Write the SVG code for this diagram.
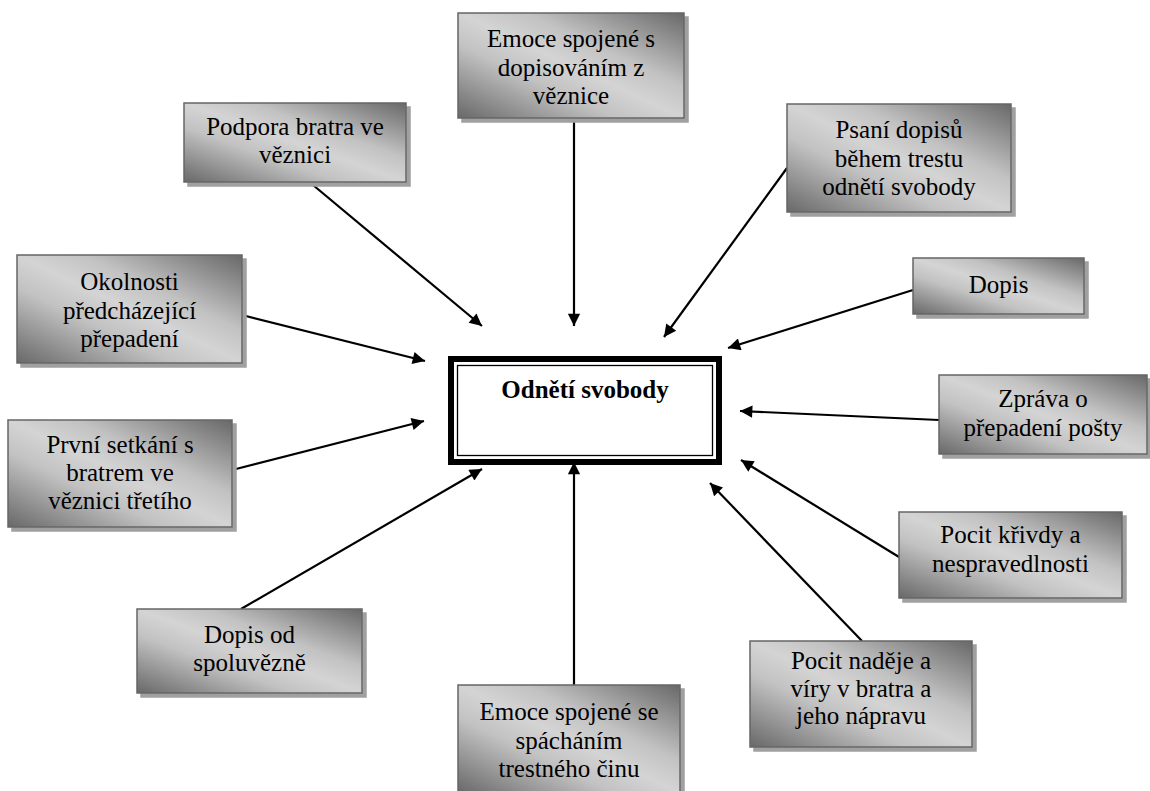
<svg xmlns="http://www.w3.org/2000/svg" width="1150" height="791" viewBox="0 0 1150 791">
<defs>
<linearGradient id="g" x1="0" y1="1" x2="1" y2="0">
<stop offset="0" stop-color="#686868"/>
<stop offset="0.35" stop-color="#c2c2c2"/>
<stop offset="0.5" stop-color="#d4d4d4"/>
<stop offset="0.65" stop-color="#c2c2c2"/>
<stop offset="1" stop-color="#686868"/>
</linearGradient>
<marker id="ah" viewBox="0 0 10 10" refX="10" refY="5" markerWidth="7" markerHeight="5.6" markerUnits="strokeWidth" orient="auto">
<path d="M0,0 L10,5 L0,10 z" fill="#000"/>
</marker>
<filter id="sh" x="-5%" y="-5%" width="115%" height="115%">
<feOffset in="SourceAlpha" dx="4" dy="4" result="o"/>
<feFlood flood-color="#a0a0a0"/>
<feComposite in2="o" operator="in" result="s"/>
<feMerge><feMergeNode in="s"/><feMergeNode in="SourceGraphic"/></feMerge>
</filter>
</defs>
<style>
.box{fill:url(#g);stroke:#666;stroke-width:1.5;filter:url(#sh)}
.t{font-family:"Liberation Serif","Times New Roman",serif;font-size:25px;fill:#000;text-anchor:middle}
.c{stroke:#000;stroke-width:2.2;fill:none;marker-end:url(#ah)}
</style>
<rect width="1150" height="791" fill="#fff"/>
<g id="connectors">
<line class="c" x1="295" y1="170" x2="482" y2="326"/>
<line class="c" x1="574" y1="118" x2="574" y2="326"/>
<line class="c" x1="787" y1="168" x2="664" y2="337"/>
<line class="c" x1="913" y1="290" x2="728" y2="348"/>
<line class="c" x1="939" y1="420" x2="740" y2="411"/>
<line class="c" x1="899" y1="557" x2="741" y2="460"/>
<line class="c" x1="862" y1="641" x2="710" y2="483"/>
<line class="c" x1="574" y1="685" x2="574" y2="462"/>
<line class="c" x1="241" y1="609" x2="482" y2="469"/>
<line class="c" x1="232" y1="470" x2="424" y2="421"/>
<line class="c" x1="242" y1="315" x2="425" y2="361"/>
</g>
<g id="center">
<rect x="451" y="359" width="268" height="103" fill="#fff" stroke="#000" stroke-width="6"/>
<rect x="457.5" y="365.5" width="255" height="90" fill="none" stroke="#000" stroke-width="1.3"/>
<text x="585" y="398" class="t" font-family="Liberation Serif, serif" style="font-weight:bold">Odnětí svobody</text>
</g>
<g id="podpora">
<rect class="box" x="184" y="103" width="222" height="79"/>
<text class="t" font-family="Liberation Serif, serif" x="295" y="135">Podpora bratra ve</text>
<text class="t" font-family="Liberation Serif, serif" x="295" y="163">věznici</text>
</g>
<g id="emoce-dopisovani">
<rect class="box" x="458" y="13" width="226" height="105"/>
<text class="t" font-family="Liberation Serif, serif" x="571" y="47">Emoce spojené s</text>
<text class="t" font-family="Liberation Serif, serif" x="571" y="75.5">dopisováním z</text>
<text class="t" font-family="Liberation Serif, serif" x="571" y="104">věznice</text>
</g>
<g id="psani">
<rect class="box" x="787" y="104" width="224" height="108"/>
<text class="t" font-family="Liberation Serif, serif" x="899" y="138">Psaní dopisů</text>
<text class="t" font-family="Liberation Serif, serif" x="899" y="166.5">během trestu</text>
<text class="t" font-family="Liberation Serif, serif" x="899" y="195">odnětí svobody</text>
</g>
<g id="dopis">
<rect class="box" x="913" y="258" width="171" height="56"/>
<text class="t" font-family="Liberation Serif, serif" x="998.5" y="293">Dopis</text>
</g>
<g id="zprava">
<rect class="box" x="939" y="375" width="208" height="79"/>
<text class="t" font-family="Liberation Serif, serif" x="1043" y="407">Zpráva o</text>
<text class="t" font-family="Liberation Serif, serif" x="1043" y="435.5">přepadení pošty</text>
</g>
<g id="krivda">
<rect class="box" x="899" y="512" width="223" height="86"/>
<text class="t" font-family="Liberation Serif, serif" x="1010.5" y="543">Pocit křivdy a</text>
<text class="t" font-family="Liberation Serif, serif" x="1010.5" y="571.5">nespravedlnosti</text>
</g>
<g id="nadeje">
<rect class="box" x="750" y="641" width="222" height="106"/>
<text class="t" font-family="Liberation Serif, serif" x="861" y="669">Pocit naděje a</text>
<text class="t" font-family="Liberation Serif, serif" x="861" y="696.5">víry v bratra a</text>
<text class="t" font-family="Liberation Serif, serif" x="861" y="724">jeho nápravu</text>
</g>
<g id="emoce-spachani">
<rect class="box" x="458" y="685" width="222" height="108"/>
<text class="t" font-family="Liberation Serif, serif" x="569" y="720">Emoce spojené se</text>
<text class="t" font-family="Liberation Serif, serif" x="569" y="748.5">spácháním</text>
<text class="t" font-family="Liberation Serif, serif" x="569" y="777">trestného činu</text>
</g>
<g id="spoluvezen">
<rect class="box" x="137" y="609" width="225" height="84"/>
<text class="t" font-family="Liberation Serif, serif" x="249.5" y="643">Dopis od</text>
<text class="t" font-family="Liberation Serif, serif" x="249.5" y="671">spoluvězně</text>
</g>
<g id="prvni">
<rect class="box" x="8" y="420" width="224" height="107"/>
<text class="t" font-family="Liberation Serif, serif" x="120" y="453">První setkání s</text>
<text class="t" font-family="Liberation Serif, serif" x="120" y="481">bratrem ve</text>
<text class="t" font-family="Liberation Serif, serif" x="120" y="509">věznici třetího</text>
</g>
<g id="okolnosti">
<rect class="box" x="17" y="255" width="225" height="108"/>
<text class="t" font-family="Liberation Serif, serif" x="129.5" y="290">Okolnosti</text>
<text class="t" font-family="Liberation Serif, serif" x="129.5" y="318.5">předcházející</text>
<text class="t" font-family="Liberation Serif, serif" x="129.5" y="347">přepadení</text>
</g>
</svg>
